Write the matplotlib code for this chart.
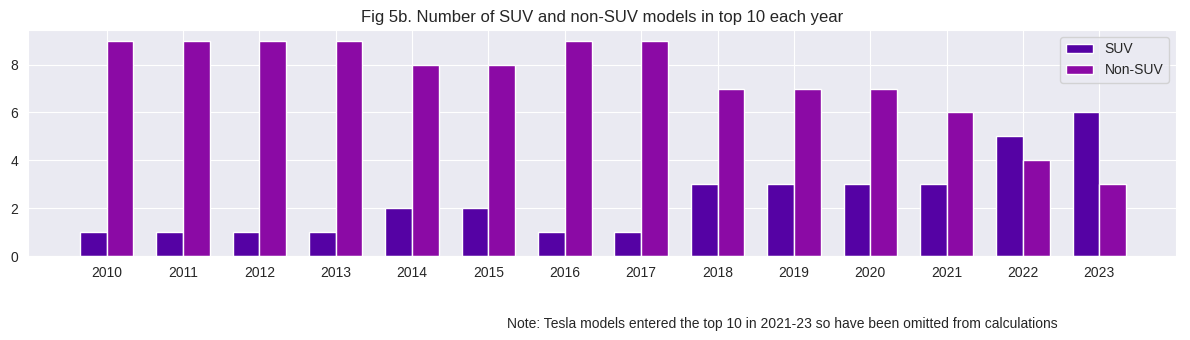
import numpy as np
import matplotlib
matplotlib.use("Agg")
import matplotlib.pyplot as plt
import seaborn as sns

years = ["2010", "2011", "2012", "2013", "2014", "2015", "2016",
         "2017", "2018", "2019", "2020", "2021", "2022", "2023"]
suv = [1, 1, 1, 1, 2, 2, 1, 1, 3, 3, 3, 3, 5, 6]
non_suv = [9, 9, 9, 9, 8, 8, 9, 9, 7, 7, 7, 6, 4, 3]

sns.set_style("darkgrid")
plt.rcParams['font.family'] = ['Liberation Sans', 'DejaVu Sans']

fig, ax = plt.subplots(figsize=(11.9, 3.4), dpi=100)
plt.subplots_adjust(left=0.0235, right=0.988, top=0.912, bottom=0.247)

x = np.arange(len(years))
w = 0.35
ax.bar(x - w / 2, suv, w, label="SUV", color="#5502a4", edgecolor="white", linewidth=1)
ax.bar(x + w / 2, non_suv, w, label="Non-SUV", color="#8b0aa5", edgecolor="white", linewidth=1)

ax.set_xticks(x)
ax.set_xticklabels(years)
ax.set_xlim(-1.03, len(years))
ax.tick_params(labelsize=10)
ax.set_title("Fig 5b. Number of SUV and non-SUV models in top 10 each year", fontsize=12)
ax.legend(loc="upper right", fontsize=10)

# note under the chart
fig.text(0.657, 0.035, "Note: Tesla models entered the top 10 in 2021-23 so have been omitted from calculations",
         ha="center", fontsize=10)

fig.savefig("out.png", dpi=100)
